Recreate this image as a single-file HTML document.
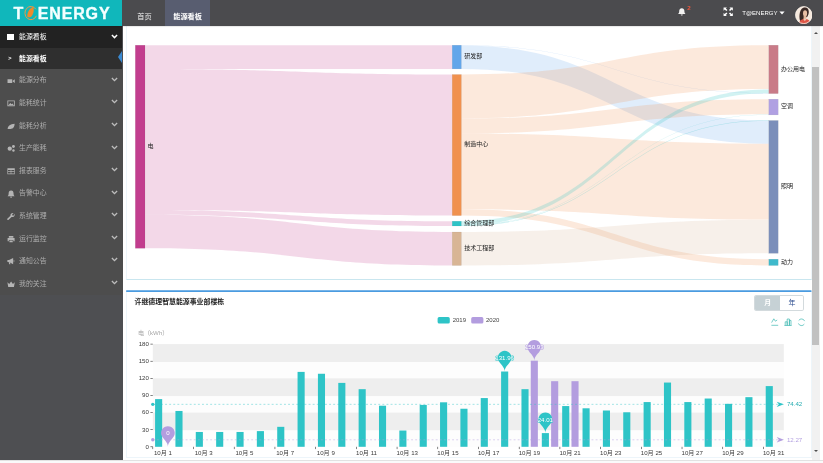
<!DOCTYPE html>
<html lang="zh-CN"><head><meta charset="utf-8"><title>T@ENERGY 能源看板</title>
<style>
*{box-sizing:border-box;margin:0;padding:0}
html,body{width:823px;height:463px;overflow:hidden;background:#fff}
body{position:relative;font-family:"Liberation Sans","Noto Sans CJK SC",sans-serif;color:#333}
#top{position:absolute;left:0;top:0;width:823px;height:25.5px;background:#4b4b4e;box-shadow:0 0.5px 1.500px rgba(0,0,0,.22);z-index:5}
#logo{position:absolute;left:0;top:0;width:122.4px;height:25.6px;background:#10b7bb;color:#f4ffff;
 font-weight:bold;font-size:16px;line-height:27.4px;letter-spacing:0px;-webkit-text-stroke:0.35px #f0ffff;white-space:nowrap}
#logo span{position:absolute;top:0}
.tab{position:absolute;top:0;height:25.5px;font-size:7.2px;line-height:7.2px;color:#f0f0f0;white-space:nowrap}
.tab b{position:absolute;top:13.2px;font-weight:normal}
#t2{left:165px;width:45.4px;background:#585d70}
#t2 b{font-weight:bold;left:8.2px;color:#fff}
#side{position:absolute;left:0;top:25.5px;width:122.5px;height:434.8px;background:#4e4f52;overflow:hidden}
#side .t{position:absolute;left:19.0px;font-size:6.9px;line-height:7px;white-space:nowrap}
.act{position:absolute;left:0;top:0;width:122.4px;height:22.3px;background:#222}
.act .t{top:7.9px;color:#fff;font-weight:400}
.sq{position:absolute;left:7.2px;top:8.8px;width:6.600px;height:5.600px;background:#fff}
.sub{position:absolute;left:0;top:22.3px;width:122.4px;height:21.5px;background:#2f2f2f}
.sub .t{top:7.5px;color:#fff;font-weight:bold}
.gt{position:absolute;left:8.2px;top:7.6px;font-size:5.600px;line-height:7px;color:#fff;font-weight:bold}
.tri{position:absolute;right:0;top:3.6px;width:0;height:0;border-top:6.7px solid transparent;border-bottom:6.7px solid transparent;border-right:4.8px solid #3a8ad2}
.mi{position:absolute;left:0;width:122.5px;height:22.7px;background:#4d4d4d}
.mi .t{top:7.2px;color:#adadad}
.ic{position:absolute;left:6.800px;top:7.4px;width:8.2px;height:8.2px}
.chev{position:absolute;left:110.600px;top:7.5px;width:7px;height:5.2px}
.act .chev{top:8.2px}
#p1{position:absolute;left:126px;top:26px;width:685.600px;height:253.900px;border:0.7px solid #c9e6ef;border-left-color:#edf5fa;border-right-color:#edf5fa;border-top:none;background:#fff}
#p2{position:absolute;left:126px;top:290.100px;width:685.600px;height:167.5px;border:0.7px solid #edf5fa;border-top:none;background:#fff;border-radius:1px 1px 0 0}
#ttl{position:absolute;left:134.600px;top:297.400px;font-size:6.9px;line-height:9px;font-weight:bold;color:#222;white-space:nowrap}
#sb{position:absolute;left:811.800px;top:25.2px;width:8.2px;height:435.1px;background:#f1f1f1}
#bot{position:absolute;left:0;top:460.3px;width:823px;height:3px;background:#fafafa;border-top:0.6px solid #e2e2e2;z-index:6}
#th{position:absolute;left:812.400px;top:67px;width:6.800px;height:278.4px;background:#c1c1c1}
.ar{position:absolute;left:813.6px;width:0;height:0;border-left:2.100px solid transparent;border-right:2.100px solid transparent}
#bg{position:absolute;left:754.2px;top:295.2px;width:49.4px;height:15.4px;border-radius:1.800px;border:0.5px solid #d3dadd;background:#fff;overflow:hidden}
#bm{left:0;top:0;width:24.8px;height:15.4px;background:#c6d1d5;color:#fff;font-weight:bold}
#by{left:24.8px;top:0;width:24px;height:14.4px;color:#27488c}
#bg span{display:block;position:absolute;font-size:6.9px;line-height:14.6px;text-align:center}
svg text{font-family:"Liberation Sans","Noto Sans CJK SC",sans-serif}
.sl{font-size:6.0px;fill:#222}
.yl{font-size:6.1px;fill:#3a3a3a;text-anchor:end}
.xl{font-size:6.1px;fill:#3a3a3a;text-anchor:middle}
.yn{font-size:6.1px;fill:#a6a6a6}
.lg{font-size:6.0px;fill:#444}
.ml{font-size:6.15px}
.pt{font-size:6.1px;fill:#fff;text-anchor:middle;paint-order:stroke;stroke-width:0.9px;stroke-linejoin:round}
#usr{position:absolute;left:742.200px;top:9.3px;font-size:6.05px;line-height:8px;color:#fff;white-space:nowrap}
</style></head><body>
<div id="top">
<div class="tab" id="t1" style="left:128px;width:37px"><b style="left:9.2px">首页</b></div>
<div class="tab" id="t2"><b>能源看板</b></div>
<svg style="position:absolute;left:677px;top:6.6px;overflow:visible" width="18" height="12" viewBox="0 0 18 12"><path d="M4.8 1.200c1.900 0 2.600 1.400 2.600 3 0 1.500.6 2.300 1.100 2.800h-7.400c.5-.5 1.100-1.300 1.100-2.800 0-1.600.7-3 2.600-3z M3.800 7.500h2c0 .7-.4 1.100-1 1.100s-1-.4-1-1.100z" fill="#f2f2f2"/><text x="10.2" y="3.2" font-size="6.2" font-weight="bold" fill="#f0563c">2</text></svg>
<svg style="position:absolute;left:722.800px;top:6.9px" width="10.4" height="9.6" viewBox="0 0 11 11" preserveAspectRatio="none" fill="#fff"><path d="M0.600.6h3.600l-1.200 1.200 1.700 1.700-1.200 1.200-1.700-1.700-1.200 1.200z"/><path d="M10.400.6v3.600l-1.200-1.200-1.700 1.700-1.200-1.200 1.700-1.700-1.200-1.200z"/><path d="M0.600 10.400v-3.600l1.200 1.200 1.700-1.700 1.200 1.200-1.700 1.700 1.200 1.200z"/><path d="M10.400 10.400h-3.600l1.200-1.200-1.700-1.700 1.200-1.200 1.700 1.700 1.200-1.200z"/></svg>
<div id="usr">T@ENERGY<svg width="6" height="4" viewBox="0 0 6 4" style="margin-left:1.400px;vertical-align:0.3px"><path d="M0.400.5h5.200l-2.600 3z" fill="#fff"/></svg></div>
<svg style="position:absolute;left:794.7px;top:6.0px" width="17.6" height="18.2" viewBox="0 0 18 18" preserveAspectRatio="none"><defs><clipPath id="av"><circle cx="9" cy="9" r="8.700"/></clipPath></defs><circle cx="9" cy="9" r="8.700" fill="#f6e9dd"/><g clip-path="url(#av)"><path d="M5.200 14.800c-.8-2.600-.9-5.600-.2-8.400.7-3 2.600-5 5.100-5.200 2.400-.1 3.900 1.700 4 4.300.1 2-.5 3.700-1.500 5.100l-3.200 1.600-1.500 3.400z" fill="#3b2a26"/><ellipse cx="10.300" cy="7.300" rx="2.100" ry="3.100" fill="#e8bfa4"/><path d="M8.800 9.800h2.700v3.200h-2.700z" fill="#e3b79b"/><path d="M3.600 18.500c.3-3.700 2.600-5.600 6.500-5.700 3.900.1 6 2 6.300 5.700z" fill="#df5646"/><path d="M8.300 12.700h3.500l-1.700 2.300z" fill="#edcdb6"/></g><circle cx="9" cy="9" r="8.400" fill="none" stroke="#f7efe8" stroke-width="0.700"/></svg>
<div id="logo"><span style="left:13.5px">T</span><span style="left:37.700px;letter-spacing:0.86px">ENERGY</span><svg style="position:absolute;left:23.0px;top:4.6px" width="15" height="17" viewBox="0 0 15 17"><path d="M12.800 4.200a6 6.600 0 1 0 .6 6.600" fill="none" stroke="#ef9a45" stroke-width="1"/><path d="M10.400 1.800c-3.400 1-6 4.600-6.200 9.600 1.200 1.400 3.400 1.200 4.800-.6 1.600-2.200 2.200-5.800 1.400-9z" fill="#f08a2c"/></svg></div>
</div>
<div id="side">
<div class="act"><span class="sq"></span><span class="t">能源看板</span><svg class="chev" viewBox="0 0 8 6"><path d="M1 1.200l3 3 3-3" fill="none" stroke="#fff" stroke-width="1.700"/></svg></div>
<div class="sub"><span class="gt">&gt;</span><span class="t">能源看板</span><span class="tri"></span></div>
<div class="mi" style="top:43.80px"><svg class="ic" viewBox="0 0 8 8" fill="#b4b4b4"><path d="M0.5 2.2h4.6v3.6h-4.6z M5.6 3.6l2-1.4v3.6l-2-1.4z"/></svg><span class="t">能源分布</span><svg class="chev" viewBox="0 0 8 6"><path d="M1 1.200l3 3 3-3" fill="none" stroke="#bdbdbd" stroke-width="1.600"/></svg></div>
<div class="mi" style="top:66.38px"><svg class="ic" viewBox="0 0 8 8" fill="#b4b4b4"><path d="M0.4 1.4h7.2v5.6h-7.2z M1.2 2.2v4h5.6v-4z M1.6 5.8l1.6-1.8 1.2 1.2 1-.8 1 1.4z" fill-rule="evenodd"/></svg><span class="t">能耗统计</span><svg class="chev" viewBox="0 0 8 6"><path d="M1 1.200l3 3 3-3" fill="none" stroke="#bdbdbd" stroke-width="1.600"/></svg></div>
<div class="mi" style="top:88.96px"><svg class="ic" viewBox="0 0 8 8" fill="#b4b4b4"><path d="M0.6 6.8c.4-3 2.6-4.8 6.8-5 .2 3.4-2 5.600-5 5-.6.2-1.200.2-1.8 0z"/></svg><span class="t">能耗分析</span><svg class="chev" viewBox="0 0 8 6"><path d="M1 1.200l3 3 3-3" fill="none" stroke="#bdbdbd" stroke-width="1.600"/></svg></div>
<div class="mi" style="top:111.54px"><svg class="ic" viewBox="0 0 8 8" fill="#b4b4b4"><circle cx="2.700" cy="4.600" r="2.100"/><circle cx="6.300" cy="2.400" r="1.400"/><circle cx="6.300" cy="6.300" r="1.200"/></svg><span class="t">生产能耗</span><svg class="chev" viewBox="0 0 8 6"><path d="M1 1.200l3 3 3-3" fill="none" stroke="#bdbdbd" stroke-width="1.600"/></svg></div>
<div class="mi" style="top:134.12px"><svg class="ic" viewBox="0 0 8 8" fill="#b4b4b4"><path d="M0.4 1.2h7.2v6h-7.2z M1 3v1.200h2.600v-1.200z M4.200 3v1.200h2.800v-1.200z M1 4.800v1.600h2.600v-1.600z M4.200 4.800v1.600h2.800v-1.600z" fill-rule="evenodd"/></svg><span class="t">报表服务</span><svg class="chev" viewBox="0 0 8 6"><path d="M1 1.200l3 3 3-3" fill="none" stroke="#bdbdbd" stroke-width="1.600"/></svg></div>
<div class="mi" style="top:156.70px"><svg class="ic" viewBox="0 0 8 8" fill="#b4b4b4"><path d="M4 .6c1.700 0 2.400 1.300 2.400 2.800 0 1.400.5 2.100 1 2.600h-6.800c.5-.5 1-1.200 1-2.600 0-1.500.7-2.800 2.400-2.800z M3.100 6.500h1.800c0 .6-.4 1-.9 1s-.9-.4-.9-1z"/></svg><span class="t">告警中心</span><svg class="chev" viewBox="0 0 8 6"><path d="M1 1.200l3 3 3-3" fill="none" stroke="#bdbdbd" stroke-width="1.600"/></svg></div>
<div class="mi" style="top:179.28px"><svg class="ic" viewBox="0 0 8 8" fill="#b4b4b4"><path d="M7.400 1.800c.3 1.100 0 2.200-.9 2.800-.6.400-1.300.5-2 .3l-2.900 2.700c-.4.300-.9.300-1.200 0-.3-.400-.3-.9.100-1.200l2.900-2.700c-.2-.800.1-1.600.7-2.200.7-.6 1.600-.800 2.400-.5l-1.500 1.400.3 1 1 .2z"/></svg><span class="t">系统管理</span><svg class="chev" viewBox="0 0 8 6"><path d="M1 1.200l3 3 3-3" fill="none" stroke="#bdbdbd" stroke-width="1.600"/></svg></div>
<div class="mi" style="top:201.86px"><svg class="ic" viewBox="0 0 8 8" fill="#b4b4b4"><path d="M1.800 1h4.400v1.600h-4.400z M0.600 3h6.800v3h-1.200v-1.200h-4.400v1.200h-1.200z M2.400 5.400h3.200v1.800h-3.200z" fill-rule="evenodd"/></svg><span class="t">运行监控</span><svg class="chev" viewBox="0 0 8 6"><path d="M1 1.200l3 3 3-3" fill="none" stroke="#bdbdbd" stroke-width="1.600"/></svg></div>
<div class="mi" style="top:224.44px"><svg class="ic" viewBox="0 0 8 8" fill="#b4b4b4"><path d="M0.400 3h1.600l4-2v6l-4-2h-1.600z M6.600 2.800c.8.300.8 2.100 0 2.400z M1.600 5.200h1.200l.6 2h-1.200z"/></svg><span class="t">通知公告</span><svg class="chev" viewBox="0 0 8 6"><path d="M1 1.200l3 3 3-3" fill="none" stroke="#bdbdbd" stroke-width="1.600"/></svg></div>
<div class="mi" style="top:247.02px"><svg class="ic" viewBox="0 0 8 8" fill="#b4b4b4"><path d="M0.400 2.200l1.800 1.800 1.800-2.600 1.800 2.600 1.800-1.800-.8 4.600h-5.600z"/></svg><span class="t">我的关注</span><svg class="chev" viewBox="0 0 8 6"><path d="M1 1.200l3 3 3-3" fill="none" stroke="#bdbdbd" stroke-width="1.600"/></svg></div>
</div>
<div id="p1"></div><div id="p2"></div>
<div id="ttl">许继德理智慧能源事业部楼栋</div>
<div id="bg"><span id="bm">月</span><span id="by">年</span></div>
<svg style="position:absolute;left:0;top:0" width="823" height="463" viewBox="0 0 823 463">
<rect x="126" y="290.2" width="685.6" height="1.9" rx="0.8" fill="#4a9be0"/>
<path d="M145.0 45.20C298.6 45.20 298.6 45.20 452.2 45.20L452.2 68.90C298.6 68.90 298.6 68.90 145.0 68.90Z" fill="#c23d8e" fill-opacity="0.2"/>
<path d="M145.0 68.90C298.6 68.90 298.6 74.50 452.2 74.50L452.2 215.60C298.6 215.60 298.6 210.00 145.0 210.00Z" fill="#c23d8e" fill-opacity="0.2"/>
<path d="M145.0 210.00C298.6 210.00 298.6 221.20 452.2 221.20L452.2 226.00C298.6 226.00 298.6 214.80 145.0 214.80Z" fill="#c23d8e" fill-opacity="0.2"/>
<path d="M145.0 214.80C298.6 214.80 298.6 232.00 452.2 232.00L452.2 265.50C298.6 265.50 298.6 248.30 145.0 248.30Z" fill="#c23d8e" fill-opacity="0.2"/>
<path d="M461.4 45.20C615.1 45.20 615.1 93.00 768.8 93.00L768.8 93.40C615.1 93.40 615.1 45.60 461.4 45.60Z" fill="#62a6ea" fill-opacity="0.3"/>
<path d="M461.4 45.60C615.1 45.60 615.1 120.50 768.8 120.50L768.8 143.80C615.1 143.80 615.1 68.90 461.4 68.90Z" fill="#62a6ea" fill-opacity="0.2"/>
<path d="M461.4 74.50C615.1 74.50 615.1 45.20 768.8 45.20L768.8 89.10C615.1 89.10 615.1 118.40 461.4 118.40Z" fill="#f0914f" fill-opacity="0.2"/>
<path d="M461.4 118.40C615.1 118.40 615.1 99.20 768.8 99.20L768.8 114.30C615.1 114.30 615.1 133.50 461.4 133.50Z" fill="#f0914f" fill-opacity="0.2"/>
<path d="M461.4 133.50C615.1 133.50 615.1 143.80 768.8 143.80L768.8 219.60C615.1 219.60 615.1 209.30 461.4 209.30Z" fill="#f0914f" fill-opacity="0.2"/>
<path d="M461.4 209.30C615.1 209.30 615.1 259.20 768.8 259.20L768.8 265.50C615.1 265.50 615.1 215.60 461.4 215.60Z" fill="#f0914f" fill-opacity="0.2"/>
<path d="M461.4 221.20C615.1 221.20 615.1 89.40 768.8 89.40L768.8 93.20C615.1 93.20 615.1 225.00 461.4 225.00Z" fill="#2fc3c6" fill-opacity="0.22"/>
<path d="M461.4 225.10C615.1 225.10 615.1 114.40 768.8 114.40L768.8 114.80C615.1 114.80 615.1 225.50 461.4 225.50Z" fill="#2fc3c6" fill-opacity="0.3"/>
<path d="M461.4 225.60C615.1 225.60 615.1 120.30 768.8 120.30L768.8 120.70C615.1 120.70 615.1 226.00 461.4 226.00Z" fill="#2fc3c6" fill-opacity="0.3"/>
<path d="M461.4 232.00C615.1 232.00 615.1 219.80 768.8 219.80L768.8 253.30C615.1 253.30 615.1 265.50 461.4 265.50Z" fill="#d8b595" fill-opacity="0.2"/>
<rect x="135.3" y="45.2" width="9.7" height="203.1" fill="#c23d8e" stroke="#555" stroke-opacity="0.18" stroke-width="0.4"/>
<rect x="452.2" y="45.2" width="9.2" height="23.7" fill="#62a6ea" stroke="#555" stroke-opacity="0.18" stroke-width="0.4"/>
<rect x="452.2" y="74.5" width="9.2" height="141.1" fill="#f0914f" stroke="#555" stroke-opacity="0.18" stroke-width="0.4"/>
<rect x="452.2" y="221.2" width="9.2" height="4.8" fill="#2fc3c6" stroke="#555" stroke-opacity="0.18" stroke-width="0.4"/>
<rect x="452.2" y="232.0" width="9.2" height="33.5" fill="#d8b595" stroke="#555" stroke-opacity="0.18" stroke-width="0.4"/>
<rect x="768.8" y="45.2" width="9.4" height="48.4" fill="#c97b88" stroke="#555" stroke-opacity="0.18" stroke-width="0.4"/>
<rect x="768.8" y="99.2" width="9.4" height="15.7" fill="#b0a0e2" stroke="#555" stroke-opacity="0.18" stroke-width="0.4"/>
<rect x="768.8" y="120.5" width="9.4" height="132.8" fill="#7b8fba" stroke="#555" stroke-opacity="0.18" stroke-width="0.4"/>
<rect x="768.8" y="259.2" width="9.4" height="6.3" fill="#3fb9cb" stroke="#555" stroke-opacity="0.18" stroke-width="0.4"/>
<text x="147.5" y="148.1" class="sl">电</text>
<text x="464.2" y="58.4" class="sl">研发部</text>
<text x="464.2" y="146.4" class="sl">制造中心</text>
<text x="464.2" y="224.9" class="sl">综合管理部</text>
<text x="464.2" y="250.1" class="sl">技术工程部</text>
<text x="781.0" y="70.7" class="sl">办公用电</text>
<text x="781.0" y="108.4" class="sl">空调</text>
<text x="781.0" y="188.2" class="sl">照明</text>
<text x="781.0" y="263.7" class="sl">动力</text>
<rect x="152.8" y="344.10" width="631.0" height="17.92" fill="#eeeeee"/>
<rect x="152.8" y="362.02" width="631.0" height="16.32" fill="#fdfdfd"/>
<rect x="152.8" y="378.33" width="631.0" height="17.92" fill="#eeeeee"/>
<rect x="152.8" y="396.25" width="631.0" height="16.32" fill="#fdfdfd"/>
<rect x="152.8" y="412.57" width="631.0" height="17.92" fill="#eeeeee"/>
<rect x="152.8" y="430.48" width="631.0" height="16.32" fill="#fdfdfd"/>
<text x="148.9" y="346.00" class="yl">180</text>
<rect x="150.4" y="343.80" width="2.4" height="0.6" fill="#333"/>
<text x="148.9" y="363.12" class="yl">150</text>
<rect x="150.4" y="360.92" width="2.4" height="0.6" fill="#333"/>
<text x="148.9" y="380.23" class="yl">120</text>
<rect x="150.4" y="378.03" width="2.4" height="0.6" fill="#333"/>
<text x="148.9" y="397.35" class="yl">90</text>
<rect x="150.4" y="395.15" width="2.4" height="0.6" fill="#333"/>
<text x="148.9" y="414.47" class="yl">60</text>
<rect x="150.4" y="412.27" width="2.4" height="0.6" fill="#333"/>
<text x="148.9" y="431.58" class="yl">30</text>
<rect x="150.4" y="429.38" width="2.4" height="0.6" fill="#333"/>
<text x="148.9" y="448.70" class="yl">0</text>
<rect x="150.4" y="446.50" width="2.4" height="0.6" fill="#333"/>
<text x="137.9" y="335.2" class="yn">电（kWh）</text>
<rect x="155.08" y="399.10" width="7.1" height="47.70" fill="#2ec4c7"/>
<rect x="175.43" y="410.97" width="7.1" height="35.83" fill="#2ec4c7"/>
<rect x="195.79" y="431.97" width="7.1" height="14.83" fill="#2ec4c7"/>
<rect x="216.14" y="431.97" width="7.1" height="14.83" fill="#2ec4c7"/>
<rect x="236.50" y="431.97" width="7.1" height="14.83" fill="#2ec4c7"/>
<rect x="256.85" y="431.11" width="7.1" height="15.69" fill="#2ec4c7"/>
<rect x="277.21" y="426.83" width="7.1" height="19.97" fill="#2ec4c7"/>
<rect x="297.56" y="371.89" width="7.1" height="74.91" fill="#2ec4c7"/>
<rect x="317.92" y="373.77" width="7.1" height="73.03" fill="#2ec4c7"/>
<rect x="338.27" y="382.90" width="7.1" height="63.90" fill="#2ec4c7"/>
<rect x="358.63" y="389.17" width="7.1" height="57.63" fill="#2ec4c7"/>
<rect x="378.98" y="405.72" width="7.1" height="41.08" fill="#2ec4c7"/>
<rect x="399.34" y="430.54" width="7.1" height="16.26" fill="#2ec4c7"/>
<rect x="419.69" y="404.92" width="7.1" height="41.88" fill="#2ec4c7"/>
<rect x="440.05" y="402.30" width="7.1" height="44.50" fill="#2ec4c7"/>
<rect x="460.40" y="408.74" width="7.1" height="38.06" fill="#2ec4c7"/>
<rect x="480.75" y="398.07" width="7.1" height="48.73" fill="#2ec4c7"/>
<rect x="501.11" y="371.51" width="7.1" height="75.29" fill="#2ec4c7"/>
<rect x="521.46" y="389.17" width="7.1" height="57.63" fill="#2ec4c7"/>
<rect x="541.82" y="433.10" width="7.1" height="13.70" fill="#2ec4c7"/>
<rect x="562.17" y="406.06" width="7.1" height="40.74" fill="#2ec4c7"/>
<rect x="582.53" y="408.29" width="7.1" height="38.51" fill="#2ec4c7"/>
<rect x="602.88" y="410.51" width="7.1" height="36.29" fill="#2ec4c7"/>
<rect x="623.24" y="412.28" width="7.1" height="34.52" fill="#2ec4c7"/>
<rect x="643.59" y="402.07" width="7.1" height="44.73" fill="#2ec4c7"/>
<rect x="663.95" y="382.56" width="7.1" height="64.24" fill="#2ec4c7"/>
<rect x="684.30" y="402.07" width="7.1" height="44.73" fill="#2ec4c7"/>
<rect x="704.66" y="398.53" width="7.1" height="48.27" fill="#2ec4c7"/>
<rect x="725.01" y="403.84" width="7.1" height="42.96" fill="#2ec4c7"/>
<rect x="745.37" y="397.16" width="7.1" height="49.64" fill="#2ec4c7"/>
<rect x="765.72" y="386.09" width="7.1" height="60.71" fill="#2ec4c7"/>
<rect x="530.76" y="360.69" width="7.1" height="86.11" fill="#b39ddf"/>
<rect x="551.12" y="381.19" width="7.1" height="65.61" fill="#b39ddf"/>
<rect x="571.47" y="381.19" width="7.1" height="65.61" fill="#b39ddf"/>
<rect x="152.50" y="446.80" width="0.6" height="2.3" fill="#333"/>
<text x="162.98" y="455.2" class="xl">10月 1</text>
<rect x="193.21" y="446.80" width="0.6" height="2.3" fill="#333"/>
<text x="203.69" y="455.2" class="xl">10月 3</text>
<rect x="233.92" y="446.80" width="0.6" height="2.3" fill="#333"/>
<text x="244.40" y="455.2" class="xl">10月 5</text>
<rect x="274.63" y="446.80" width="0.6" height="2.3" fill="#333"/>
<text x="285.11" y="455.2" class="xl">10月 7</text>
<rect x="315.34" y="446.80" width="0.6" height="2.3" fill="#333"/>
<text x="325.82" y="455.2" class="xl">10月 9</text>
<rect x="356.05" y="446.80" width="0.6" height="2.3" fill="#333"/>
<text x="366.53" y="455.2" class="xl">10月 11</text>
<rect x="396.76" y="446.80" width="0.6" height="2.3" fill="#333"/>
<text x="407.24" y="455.2" class="xl">10月 13</text>
<rect x="437.47" y="446.80" width="0.6" height="2.3" fill="#333"/>
<text x="447.95" y="455.2" class="xl">10月 15</text>
<rect x="478.18" y="446.80" width="0.6" height="2.3" fill="#333"/>
<text x="488.65" y="455.2" class="xl">10月 17</text>
<rect x="518.89" y="446.80" width="0.6" height="2.3" fill="#333"/>
<text x="529.36" y="455.2" class="xl">10月 19</text>
<rect x="559.60" y="446.80" width="0.6" height="2.3" fill="#333"/>
<text x="570.07" y="455.2" class="xl">10月 21</text>
<rect x="600.31" y="446.80" width="0.6" height="2.3" fill="#333"/>
<text x="610.78" y="455.2" class="xl">10月 23</text>
<rect x="641.02" y="446.80" width="0.6" height="2.3" fill="#333"/>
<text x="651.49" y="455.2" class="xl">10月 25</text>
<rect x="681.73" y="446.80" width="0.6" height="2.3" fill="#333"/>
<text x="692.20" y="455.2" class="xl">10月 27</text>
<rect x="722.44" y="446.80" width="0.6" height="2.3" fill="#333"/>
<text x="732.91" y="455.2" class="xl">10月 29</text>
<rect x="763.15" y="446.80" width="0.6" height="2.3" fill="#333"/>
<text x="773.62" y="455.2" class="xl">10月 31</text>
<line x1="152.8" y1="404.34" x2="782.8" y2="404.34" stroke="#2ec4c7" stroke-width="0.5" stroke-dasharray="1.900 2.200" stroke-opacity="0.9"/>
<circle cx="152.8" cy="404.34" r="1.700" fill="#2ec4c7"/>
<path d="M783.9 404.34l-7.200 -2.700 2.100 2.700 -2.100 2.700z" fill="#2ec4c7"/>
<text x="786.9" y="406.44" class="ml" fill="#27adb1">74.42</text>
<line x1="152.8" y1="439.80" x2="782.8" y2="439.80" stroke="#b39ddf" stroke-width="0.5" stroke-dasharray="1.900 2.200" stroke-opacity="0.9"/>
<circle cx="152.8" cy="439.80" r="1.700" fill="#b39ddf"/>
<path d="M783.9 439.80l-7.200 -2.700 2.100 2.700 -2.100 2.700z" fill="#b39ddf"/>
<text x="786.9" y="441.90" class="ml" fill="#b3a0e0">12.27</text>
<path d="M161.68 435.79A6.85 6.85 0 1 1 174.17 435.79C172.48 439.53 167.93 442.00 167.93 446.80C167.93 442.00 163.37 439.53 161.68 435.79Z" fill="#b39ddf"/><text x="167.93" y="435.20" class="pt" stroke="#b39ddf">0</text>
<path d="M498.42 360.50A6.85 6.85 0 1 1 510.90 360.50C509.21 364.24 504.66 366.71 504.66 371.51C504.66 366.71 500.11 364.24 498.42 360.50Z" fill="#2ec4c7"/><text x="504.66" y="359.91" class="pt" stroke="#2ec4c7">131.96</text>
<path d="M528.07 349.67A6.85 6.85 0 1 1 540.56 349.67C538.87 353.42 534.31 355.89 534.31 360.69C534.31 355.89 529.76 353.42 528.07 349.67Z" fill="#b39ddf"/><text x="534.31" y="349.09" class="pt" stroke="#b39ddf">150.93</text>
<path d="M539.13 422.09A6.85 6.85 0 1 1 551.61 422.09C549.92 425.83 545.37 428.31 545.37 433.10C545.37 428.31 540.82 425.83 539.13 422.09Z" fill="#2ec4c7"/><text x="545.37" y="421.50" class="pt" stroke="#2ec4c7">24.01</text>
<rect x="437.6" y="317.1" width="12.2" height="6.4" rx="1.600" fill="#2ec4c7"/>
<text x="452.7" y="321.9" class="lg">2019</text>
<rect x="471.2" y="317.1" width="12.2" height="6.4" rx="1.600" fill="#b39ddf"/>
<text x="486.0" y="321.9" class="lg">2020</text>
<g fill="none" stroke="#3db8b2" stroke-width="0.700"><path d="M771.6 322.6l2.200-3.800 1.600 2.400 1.800-1.200"/><path d="M771.4 325.300h6.800"/><path d="M785.200 325.400v-3.600h2v3.600M787.200 325.400v-6.400h2.200v6.400M789.400 325.400v-5h1.600v5M784.400 325.500h7.200"/><path d="M804.600 321.100a3.300 3.300 0 0 0-5.900-.6M798.400 323.400a3.300 3.300 0 0 0 5.900.7"/></g>
</svg>
<div id="sb"></div><div id="th"></div>
<div class="ar" style="top:31.600px;border-bottom:2.200px solid #505050"></div>
<div class="ar" style="top:450.200px;border-top:2.400px solid #505050"></div>
<div id="bot"></div>
</body></html>
